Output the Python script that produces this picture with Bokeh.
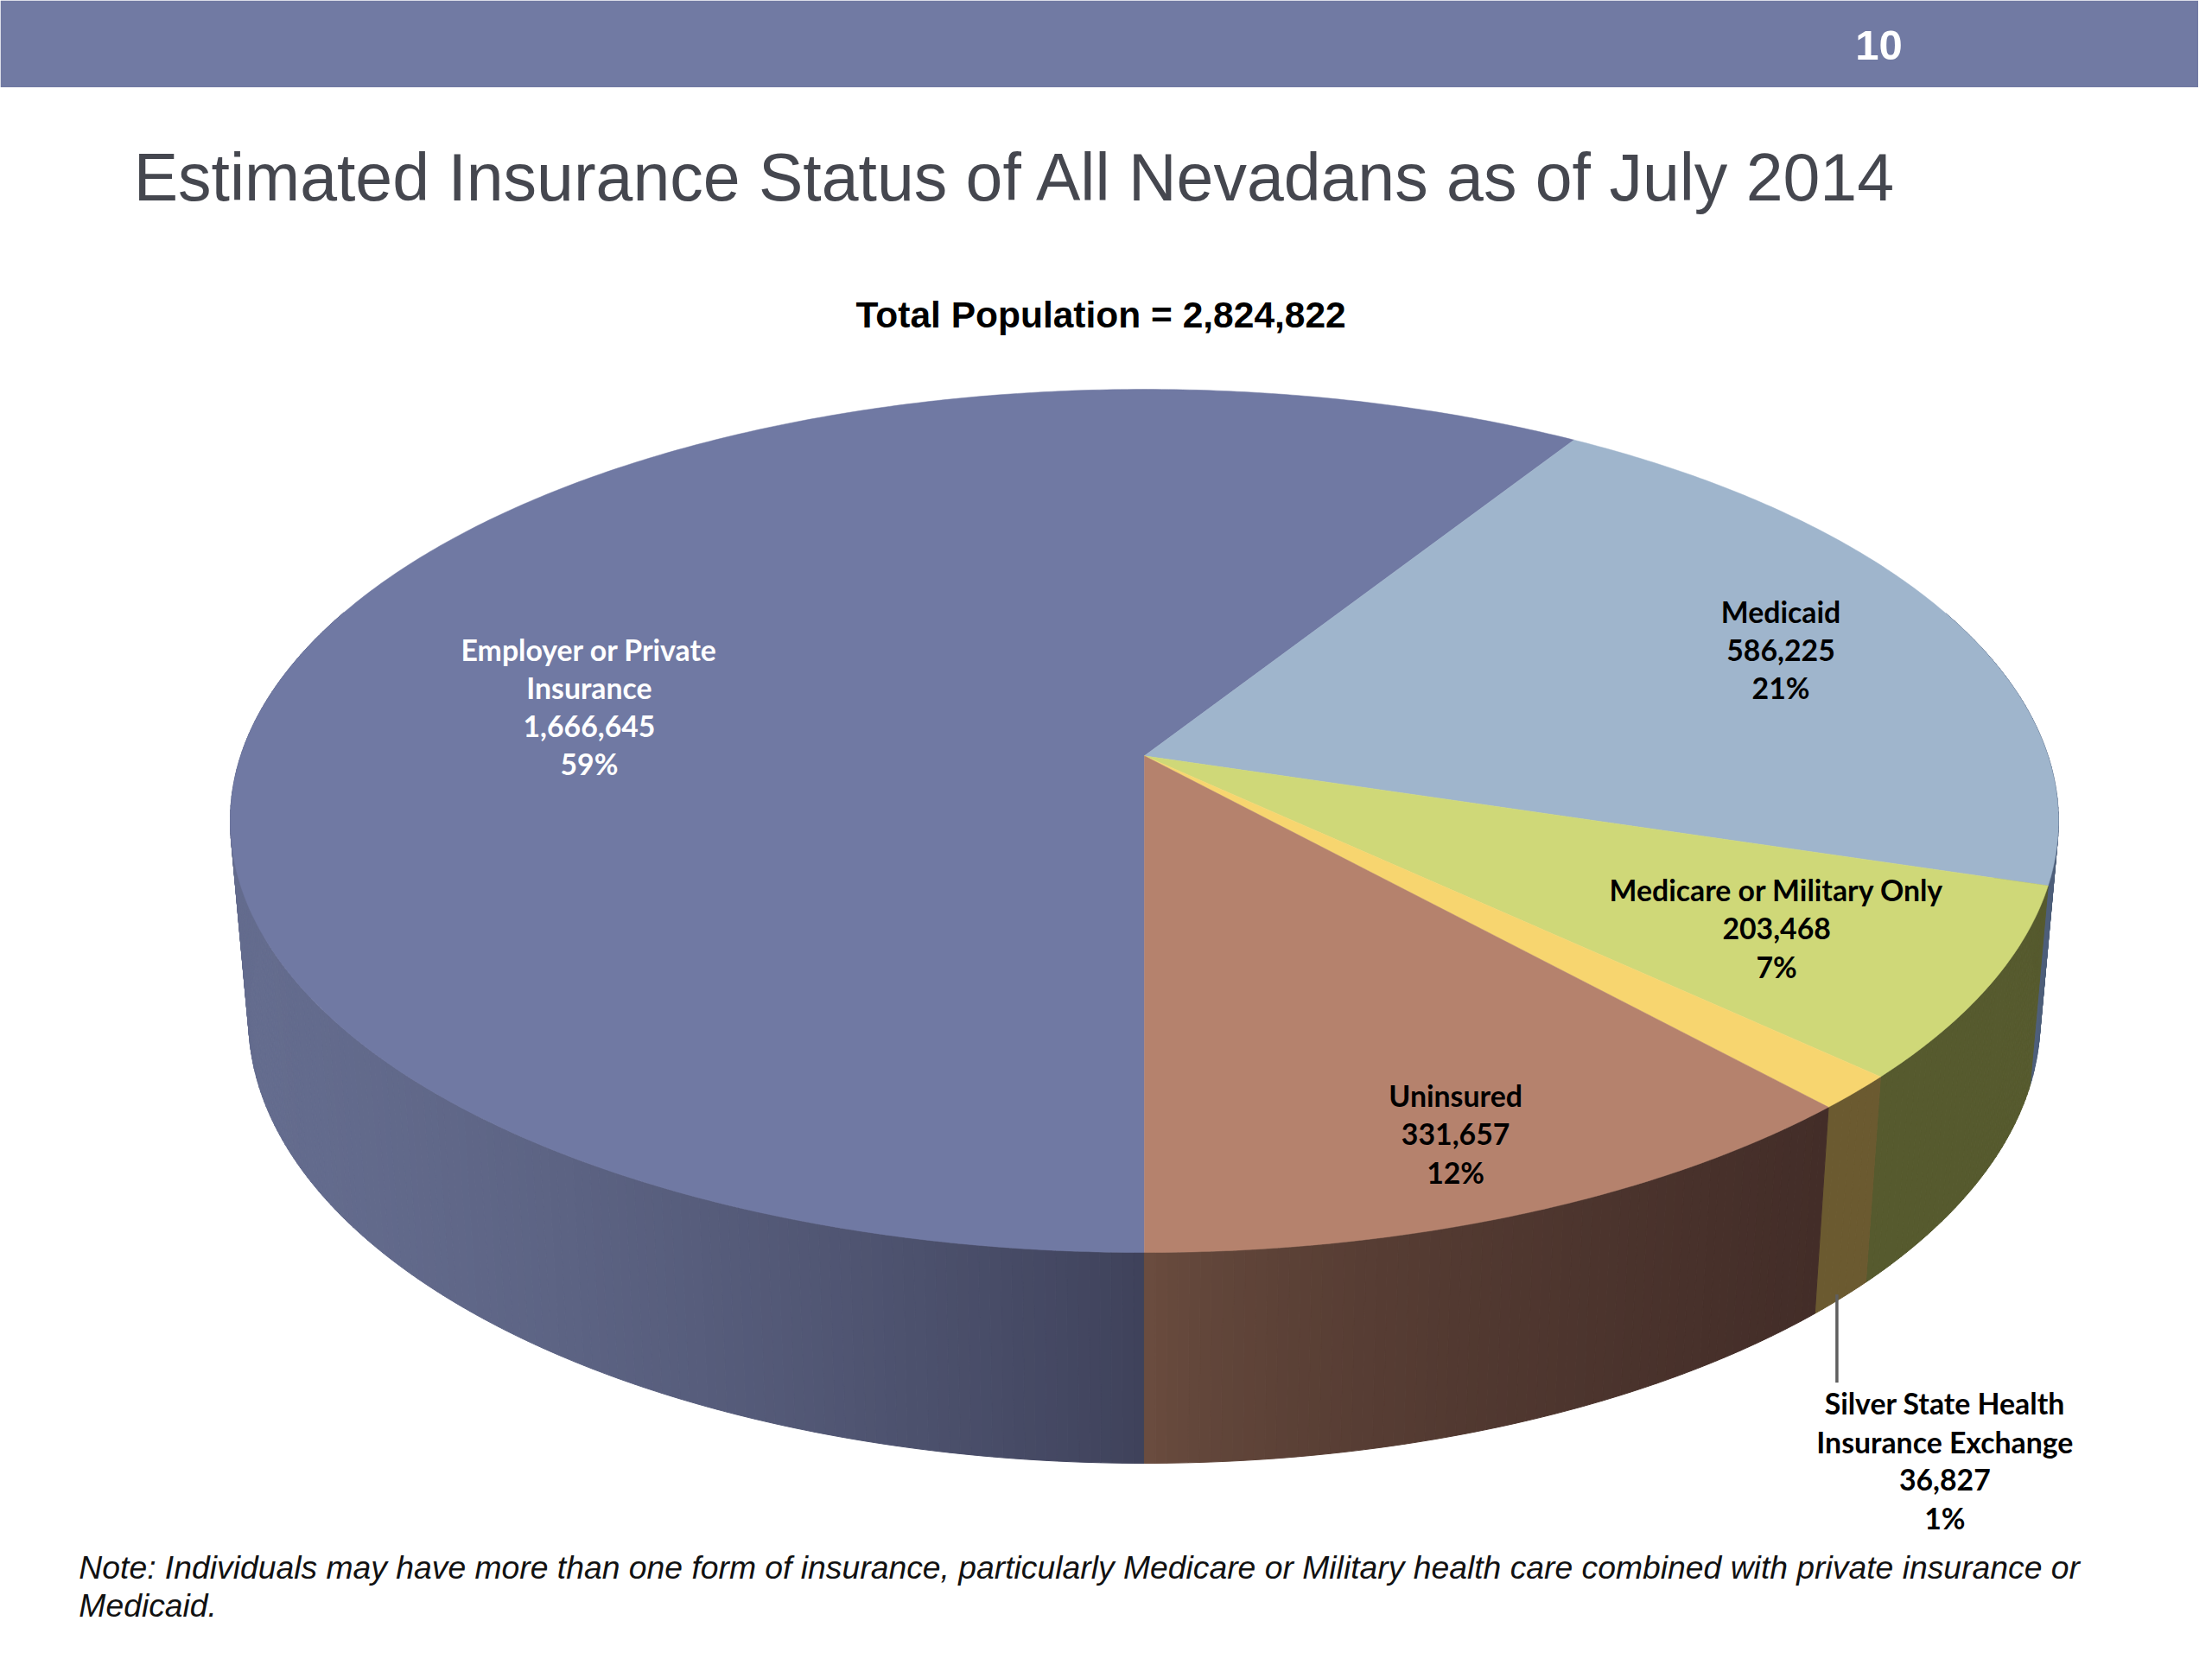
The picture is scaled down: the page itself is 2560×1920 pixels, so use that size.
import numpy as np
from bokeh.plotting import figure
from bokeh.models import Range1d, ColumnDataSource
from bokeh.core.properties import value
from bokeh.embed import file_html
from bokeh.resources import INLINE

# ---- data
categories = ["Employer or Private|Insurance", "Medicaid", "Medicare or Military Only",
              "Silver State Health|Insurance Exchange", "Uninsured"]
people = [1666645, 586225, 203468, 36827, 331657]
page_number = "10"
title_text = "Estimated Insurance Status of All Nevadans as of July 2014"
subtitle_text = "Total Population = 2,824,822"
note_lines = ["Note: Individuals may have more than one form of insurance, particularly Medicare or Military health care combined with private insurance or",
              "Medicaid."]

# ---- styling and layout (drawing units = pixels of a 1568 wide picture)
top_colors = ["#7079a3", "#9fb5cc", "#cfd878", "#f7d56f", "#b5826d"]
side_left = ["#646c8e", "#4e5f7a", "#565a2e", "#6b5a30", "#6c4e40"]
side_right = ["#3f425b", "#4e5f7a", "#565a2e", "#6b5a30", "#432d28"]
side_gamma = [1.5, 1.0, 1.0, 1.0, 0.6]
label_colors = ["white", "black", "black", "black", "black"]
label_pos = [(420, 464), (1270, 437), (1267, 636), (1387, 1003), (1038, 783)]
LINE = 27.3
W, H = 2544, 1904

CX, CY, RX, RY, K = 816.0, 540.0, 644.6, 301.5, 0.1507
CY2, SX2, SY2 = 680.0, 0.98, 1.03


def rim(theta, cy=CY, sx=1.0, sy=1.0):
    xu, yu = np.sin(theta), np.cos(theta)
    d = 1 + K * yu
    return CX + sx * RX * xu / d, cy - sy * RY * yu / d


def mix(a, b, t):
    ca = [int(a[i:i + 2], 16) for i in (1, 3, 5)]
    cb = [int(b[i:i + 2], 16) for i in (1, 3, 5)]
    return "#%02x%02x%02x" % tuple(int(round(u + (v - u) * t)) for u, v in zip(ca, cb))


total = sum(people)
shares = np.array(people) / total
edges = np.pi + np.concatenate([[0], np.cumsum(shares)]) * 2 * np.pi

p = figure(width=W, height=H, output_backend="svg", toolbar_location=None,
           x_range=Range1d(0, 1568), y_range=Range1d(1176, 0),
           background_fill_color="white", border_fill_color="white", min_border=0)
p.axis.visible = False
p.grid.visible = False
p.outline_line_color = None

# header band
p.quad(left=[0], right=[1568], top=[0], bottom=[62], fill_color="#717aa3", line_color=None)

# side wall, as narrow strips so that it shades along its length
sx, sy, sc = [], [], []
strip = np.radians(0.6)
for i in range(len(people)):
    n = max(2, int((edges[i + 1] - edges[i]) / strip))
    th = np.linspace(edges[i], edges[i + 1], n + 1)
    keep = [j for j in range(n) if not (np.cos(th[j]) > 0.35 and np.cos(th[j + 1]) > 0.35)]
    xs_front, _ = rim(th[keep[0]:keep[-1] + 2])
    for j in keep:
        x1, y1 = rim(th[j:j + 2])
        x2, y2 = rim(th[j:j + 2], CY2, SX2, SY2)
        sx.append([x1[0], x1[1], x2[1], x2[0]])
        sy.append([y1[0], y1[1], y2[1], y2[0]])
        xm = (x1[0] + x1[1]) / 2
        t = (xm - xs_front.min()) / max(xs_front.max() - xs_front.min(), 1e-6)
        sc.append(mix(side_left[i], side_right[i], float(t) ** side_gamma[i]))
p.patches(xs="x", ys="y", fill_color="c", line_color="c", line_width=1,
          source=ColumnDataSource(dict(x=sx, y=sy, c=sc)))

# top face
tx, ty = [], []
for i in range(len(people)):
    th = np.linspace(edges[i], edges[i + 1], max(3, int((edges[i + 1] - edges[i]) / np.radians(0.5))))
    x, y = rim(th)
    tx.append([CX] + list(x))
    ty.append([CY] + list(y))
p.patches(xs="x", ys="y", fill_color="c", line_color="c", line_width=0.5,
          source=ColumnDataSource(dict(x=tx, y=ty, c=top_colors)))

# leader of the smallest slice
p.line([1310, 1310], [925, 988], line_color="#5f5f5f", line_width=3.5)

# slice labels
lx, ly, lt, lc = [], [], [], []
for name, v, (x0, y0), col in zip(categories, people, label_pos, label_colors):
    rows = name.split("|") + [f"{v:,}", f"{round(100 * v / total)}%"]
    for k, row in enumerate(rows):
        lx.append(x0)
        ly.append(y0 + k * LINE)
        lt.append(row)
        lc.append(col)
p.text(x="x", y="y", text="t", text_color="c", text_font=value("Lato"), text_font_style="bold",
       text_font_size="33.8px", text_align="center", text_baseline="middle",
       source=ColumnDataSource(dict(x=lx, y=ly, t=lt, c=lc)))

p.text(x=[1340], y=[32], text=[page_number], text_color="white", text_font=value("Liberation Sans"),
       text_font_style="bold", text_font_size="49px", text_align="center", text_baseline="middle")
p.text(x=[95], y=[126], text=[title_text], text_color="#45474f", text_font=value("Liberation Sans"),
       text_font_size="77px", text_align="left", text_baseline="middle")
p.text(x=[785], y=[225], text=[subtitle_text], text_color="black", text_font=value("Liberation Sans"),
       text_font_style="bold", text_font_size="42.5px", text_align="center", text_baseline="middle")
for k, row in enumerate(note_lines):
    p.text(x=[56], y=[1120 + k * 27.5], text=[row], text_color="#111111", text_font=value("Liberation Sans"),
           text_font_style="italic", text_font_size="37.3px", text_align="left", text_baseline="middle")

open("out.html", "w").write(file_html(p, INLINE))
